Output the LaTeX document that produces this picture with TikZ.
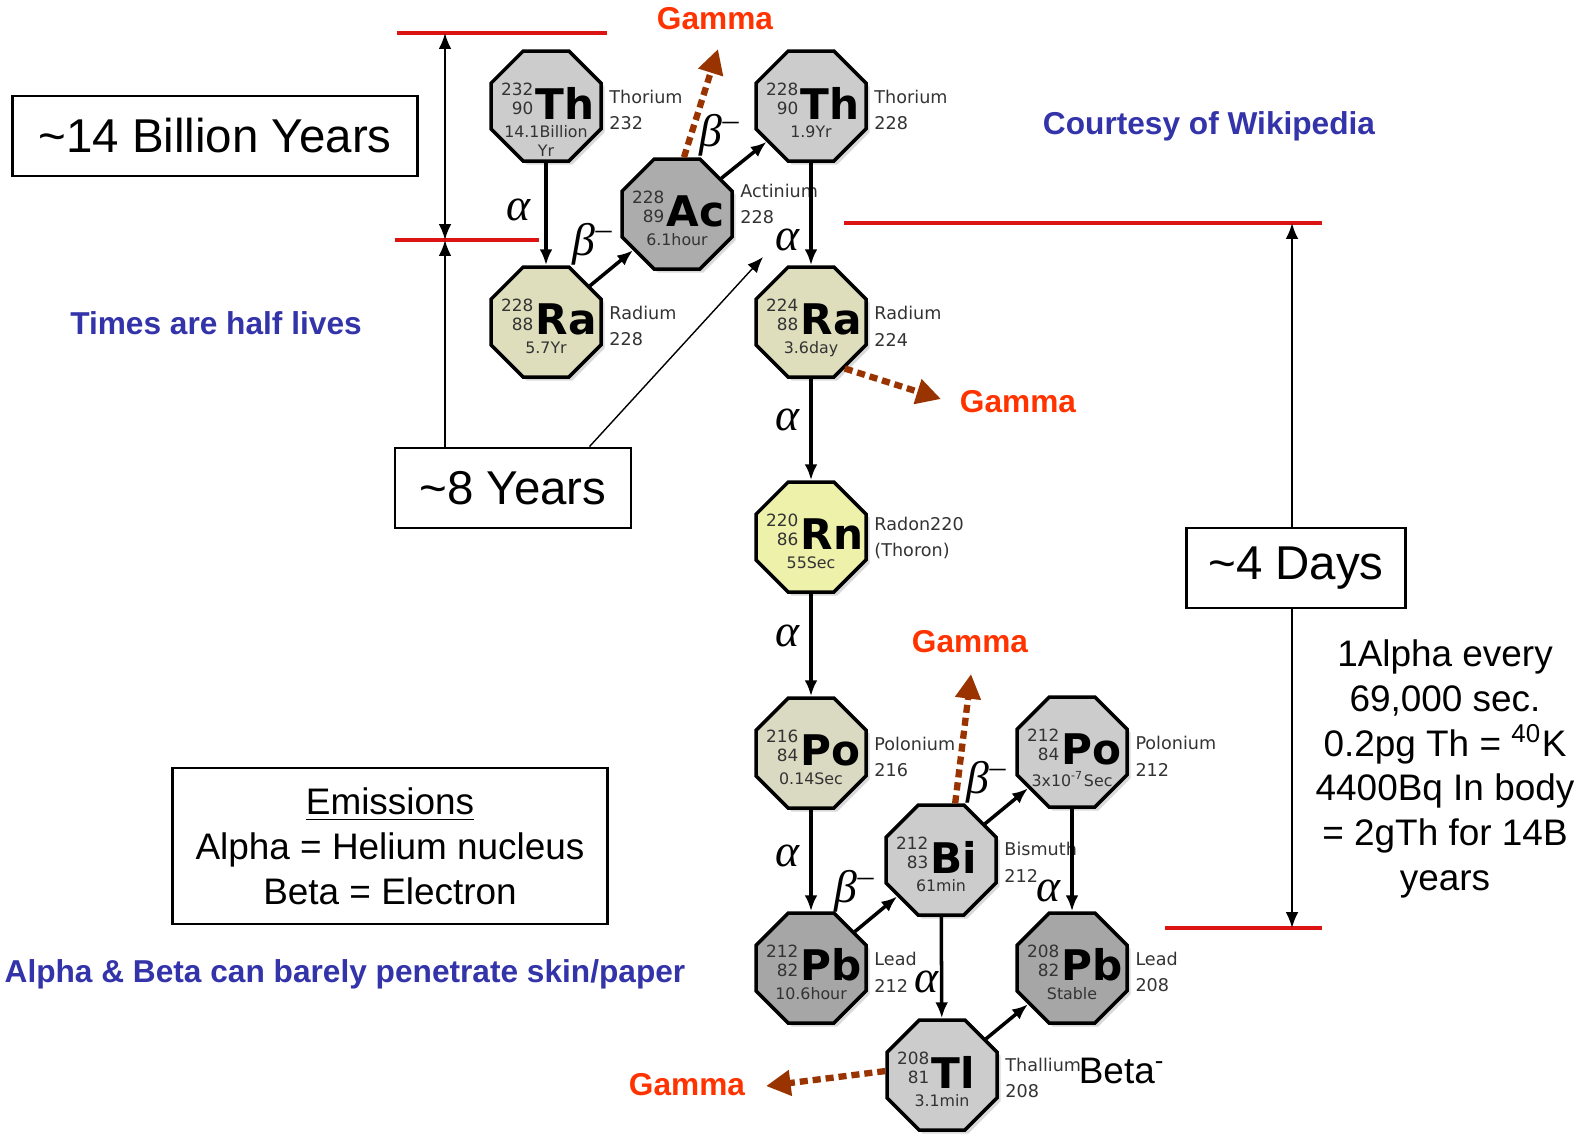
\documentclass[tikz,border=0pt]{standalone}
\usepackage{fontspec}
\setmainfont{Liberation Sans}
\newfontfamily\nucfont{DejaVu Sans}
\newfontfamily\grkfont{Liberation Serif}
\usepackage{xcolor}
\usepackage{tikz}
\usetikzlibrary{calc, shapes.geometric, arrows.meta, shadows}

\definecolor{thgray}{RGB}{204,204,204}
\definecolor{acgray}{RGB}{172,172,172}
\definecolor{pbgray}{RGB}{166,166,166}
\definecolor{ragreen}{RGB}{222,222,188}
\definecolor{rnyellow}{RGB}{238,241,170}
\definecolor{pogreen}{RGB}{218,218,194}
\definecolor{gammared}{RGB}{255,51,0}
\definecolor{gammabrown}{RGB}{153,51,0}
\definecolor{noteblue}{RGB}{51,51,170}
\definecolor{limitred}{RGB}{220,20,20}

\begin{document}
\begin{tikzpicture}[x=0.01cm, y=-0.01cm, >={Latex[length=4.5pt,width=3.6pt]},
    nucleus/.style={regular polygon, regular polygon sides=8, minimum size=1.19cm,
        inner sep=0pt, draw, line width=1pt,
        drop shadow={shadow xshift=1pt, shadow yshift=-1pt, opacity=0.3}},
    massno/.style={inner sep=0pt, text=black!80, font=\nucfont\fontsize{4.8}{5}\selectfont},
    symb/.style={inner sep=0pt, font=\nucfont\bfseries\fontsize{12}{12}\selectfont},
    halflife/.style={inner sep=0pt, align=center, text=black!80,
        font=\nucfont\fontsize{4.5}{5.4}\selectfont},
    nucname/.style={inner sep=0pt, align=left, text=black!80,
        font=\nucfont\fontsize{5}{7.6}\selectfont},
    decay/.style={->, line width=1pt},
    greek/.style={inner sep=0pt, font=\grkfont\itshape\fontsize{13}{13}\selectfont},
    gam/.style={-{Triangle[length=7pt,width=7pt]}, gammabrown, line width=1.8pt,
        dash pattern=on 2.3pt off 1.4pt},
    gammatxt/.style={text=gammared, font=\bfseries\fontsize{9}{10}\selectfont},
    bluetxt/.style={text=noteblue, font=\bfseries\fontsize{9}{10}\selectfont},
    redline/.style={limitred, line width=1pt},
    timearrow/.style={line width=0.6pt},
    timebox/.style={draw, line width=0.8pt, minimum height=0.8cm,
        font=\fontsize{13.5}{14}\selectfont}]

    \useasboundingbox (0,0) rectangle (1595,1135);

    % Chuỗi phân rã Thorium
    \foreach \n/\x/\y/\c/\m/\z/\s/\t in {
        th232/546/106/thgray/232/90/Th/{14.1Billion\\Yr},
        ra228/546/322/ragreen/228/88/Ra/5.7Yr,
        ac228/677/214/acgray/228/89/Ac/6.1hour,
        th228/811/106/thgray/228/90/Th/1.9Yr,
        ra224/811/322/ragreen/224/88/Ra/3.6day,
        rn220/811/537/rnyellow/220/86/Rn/55Sec,
        po216/811/753/pogreen/216/84/Po/0.14Sec,
        pb212/811/968/pbgray/212/82/Pb/10.6hour,
        bi212/941/860/thgray/212/83/Bi/61min,
        po212/1072/752/thgray/212/84/Po/{3x10\textsuperscript{-7}Sec},
        pb208/1072/968/pbgray/208/82/Pb/Stable,
        tl208/942/1075/thgray/208/81/Tl/3.1min}
    {
        \node[nucleus, fill=\c] (\n) at (\x,\y) {};
        \node[massno, anchor=east] (\n-m) at ($(\n)+(-12,-17)$) {\m};
        \node[massno, anchor=east] (\n-z) at ($(\n)+(-12,2)$) {\z};
        \node[symb, anchor=west] (\n-s) at ($(\n)+(-11,-3)$) {\s};
        \node[halflife, anchor=north] (\n-t) at ($(\n)+(0,19)$) {\t};
    }

    % Tên nguyên tố
    \foreach \n/\a/\b/\dy in {th232/Thorium/232/4, ra228/Radium/228/4,
        ac228/Actinium/228/-10, th228/Thorium/228/4, ra224/Radium/224/4,
        rn220/Radon220/(Thoron)/1, po216/Polonium/216/4, pb212/Lead/212/4,
        bi212/Bismuth/212/2, po212/Polonium/212/4, pb208/Lead/208/4,
        tl208/Thallium/208/3}
        \node[nucname, anchor=west] (\n-lab) at ($(\n.east)+(6,\dy)$) {\a\\\b};

    % Mũi tên phân rã
    \draw[decay] (th232) -- (ra228);
    \draw[decay] (ra228) -- (ac228);
    \draw[decay] (ac228) -- (th228);
    \draw[decay] (th228) -- (ra224);
    \draw[decay] (ra224) -- (rn220);
    \draw[decay] (rn220) -- (po216);
    \draw[decay] (po216) -- (pb212);
    \draw[decay] (pb212) -- (bi212);
    \draw[decay] (bi212) -- (po212);
    \draw[decay] (bi212) -- (tl208);
    \draw[decay] (po212) -- (pb208);
    \draw[decay] (tl208) -- (pb208);

    \node[greek] (al1) at (518,210) {α};
    \node[greek] (be1) at (593,244) {β\textsuperscript{–}};
    \node[greek] (be2) at (720,135) {β\textsuperscript{–}};
    \node[greek] (al2) at (787,240) {α};
    \node[greek] (al3) at (787,420) {α};
    \node[greek] (al4) at (787,636) {α};
    \node[greek] (al5) at (787,856) {α};
    \node[greek] (be3) at (855,891) {β\textsuperscript{–}};
    \node[greek] (be4) at (987,782) {β\textsuperscript{–}};
    \node[greek] (al6) at (1048,891) {α};
    \node[greek] (al7) at (926,982) {α};
    \node (betalab) at (1122,1071) {\fontsize{10.5}{12}\selectfont Beta\textsuperscript{-}};

    % Tia gamma
    \coordinate (gac) at (718,49);
    \coordinate (gra) at (941,399);
    \coordinate (gbi) at (971,674);
    \coordinate (gtl) at (766,1086);
    \draw[gam] (ac228.83) -- (gac);
    \draw[gam] (ra224.-54) -- (gra);
    \draw[gam] (bi212.76) -- (gbi);
    \draw[gam] (tl208.176) -- (gtl);
    \node[gammatxt] (gtop) at (715,19) {Gamma};
    \node[gammatxt] (gright) at (1018,402) {Gamma};
    \node[gammatxt] (gmid) at (970,642) {Gamma};
    \node[gammatxt] (glow) at (687,1085) {Gamma};

    % Vạch thời gian
    \draw[redline] (397,33) -- (607,33);
    \draw[redline] (395,240) -- (539,240);
    \draw[redline] (844,223) -- (1322,223);
    \draw[redline] (1165,928) -- (1322,928);

    \coordinate (t14a) at (445,33);
    \coordinate (t14b) at (445,240);
    \coordinate (d4a) at (1292,223);
    \coordinate (d4b) at (1292,928);
    \coordinate (eighttip) at (763,257);

    \node[timebox, minimum width=4.04cm] (bil) at (215,136) {\textasciitilde14 Billion Years};
    \node[timebox, minimum width=2.36cm] (eight) at (513,488) {\textasciitilde8 Years};
    \node[timebox, minimum width=2.19cm] (four) at (1296,568) {\textasciitilde4 Days};

    \draw[timearrow, <->] (t14a) -- (t14b);
    \draw[timearrow, ->] (eight.north -| t14b) -- (t14b);
    \draw[line width=0.4pt, ->] ($(eight.north east)+(-43,0)$) -- (eighttip);
    \draw[timearrow, ->] (four.north -| d4a) -- (d4a);
    \draw[timearrow, ->] (four.south -| d4b) -- (d4b);

    % Ghi chú
    \node[bluetxt] (halfnote) at (216,323) {Times are half lives};
    \node[bluetxt] (courtesy) at (1209,126) {Courtesy of Wikipedia};
    \node[bluetxt] (skin) at (345,974) {Alpha \& Beta can barely penetrate skin/paper};
    \node[draw, line width=0.8pt, minimum width=4.34cm, minimum height=1.56cm, align=center,
        font=\fontsize{10.5}{12.8}\selectfont] (emis) at (390,846)
        {\underline{Emissions}\\Alpha = Helium nucleus\\Beta = Electron};
    \node[align=center, font=\fontsize{10.5}{12.75}\selectfont] (note) at (1445,769)
        {1Alpha every\\69,000 sec.\\0.2pg Th = \textsuperscript{40}K\\4400Bq In body\\= 2gTh for 14B\\years};
\end{tikzpicture}
\end{document}
